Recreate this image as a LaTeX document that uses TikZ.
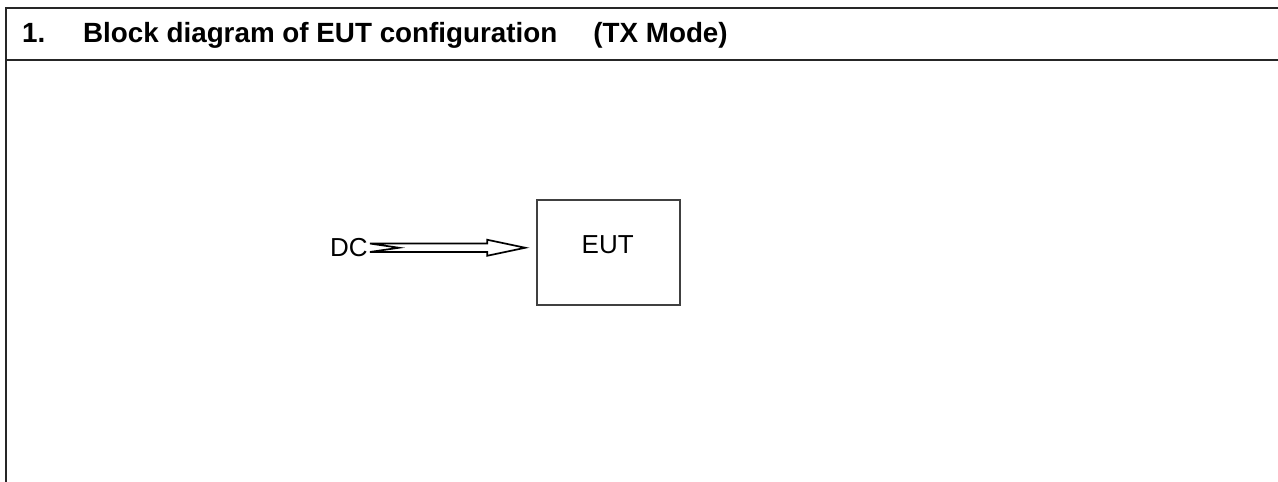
\documentclass[tikz,border=0pt]{standalone}
\usepackage{fontspec}
\setmainfont{Liberation Sans}
\usetikzlibrary{calc}
\tikzstyle{frame} = [draw=black!85, line width=1.6pt]
\tikzstyle{eutbox} = [rectangle, draw=black!75, line width=1.5pt,
    minimum width=143pt, minimum height=105pt]
\tikzstyle{lbl} = [inner sep=0pt, anchor=base west, font=\fontsize{26}{30}\selectfont]
\tikzstyle{powerarrow} = [draw=black, line width=1.7pt, fill=white, line join=miter]

\begin{document}
\begin{tikzpicture}[x=1pt,y=-1pt]
  \useasboundingbox (0,0) rectangle (1278,482);
  % frame and header
  \draw[frame] (1278,8) -- (6,8) -- (6,482);
  \draw[frame] (6,60) -- (1278,60);
  \node[inner sep=0pt, anchor=base west, font=\fontsize{27.8}{32}\selectfont\bfseries]
    (title) at (22,42.5) {1.\hspace*{37.8pt}Block diagram of EUT configuration\hspace*{36pt}(TX Mode)};

  \node[eutbox] (eut) at (608.5,252.5) {};
  \node[lbl] (euttext) at ($(eut.center)+(-27,0.8)$) {EUT};
  \node[lbl] (dc) at (330,256.7) {DC};

  % notched arrow from DC to EUT
  \coordinate (tail) at ($(dc.east)+(2,0)$);
  \coordinate (tip) at ($(tail -| eut.west)+(-11,0)$);
  \draw[powerarrow] ($(tail)+(0,-4.2)$) -- ($(tip)+(-38,-4.2)$) -- ($(tip)+(-38,-8)$)
    -- (tip) -- ($(tip)+(-38,8)$) -- ($(tip)+(-38,4.2)$) -- ($(tail)+(0,4.2)$)
    -- ($(tail)+(29,0)$) -- cycle;
\end{tikzpicture}
\end{document}
